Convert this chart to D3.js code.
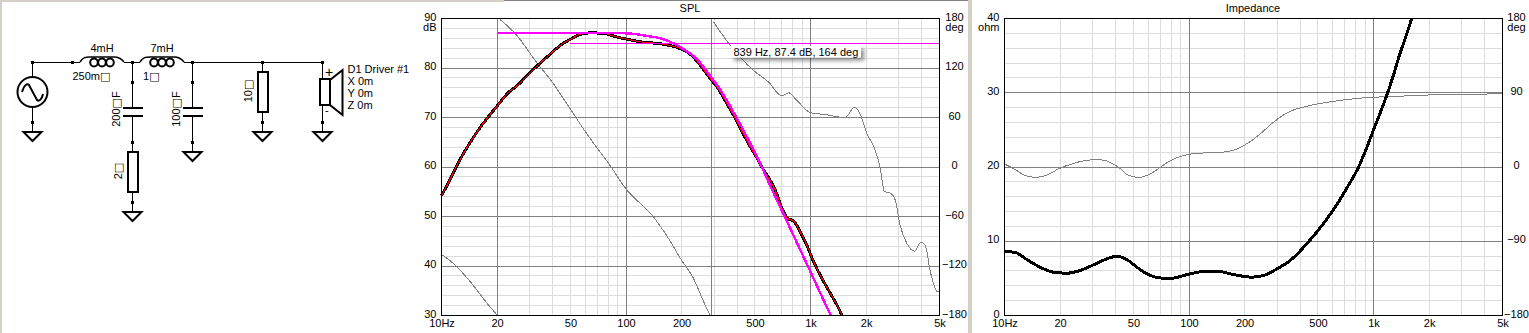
<!DOCTYPE html>
<html><head><meta charset="utf-8">
<style>
html,body{margin:0;padding:0;background:#fff;overflow:hidden}
svg{display:block}
text{font-family:"Liberation Sans",sans-serif;font-size:11px;fill:#000}
</style>
<script src="https://cdn.jsdelivr.net/npm/d3@7"></script>
</head><body><svg id="c" width="1529" height="333"></svg>
<script>
// ---- data ----
const xTicks=[10,20,50,100,200,500,1000,2000,5000];
const xTickLabels=["10Hz","20","50","100","200","500","1k","2k","5k"];
const minorFreqs=[10,20,30,40,50,60,70,80,90,100,200,300,400,500,600,700,800,900,1000,2000,3000,4000,5000];
const majorFreqs=[100,1000];
const splCursorFreqs=[20.15,292];
const splTicks=[30,40,50,60,70,80,90];
const splMinor=[32,34,36,38,42,44,46,48,52,54,56,58,62,64,66,68,72,74,76,78,82,84,86,88];
const degTicks180=[-180,-120,-60,0,60,120,180];
const impTicks=[0,10,20,30,40];
const impMinor=[2,4,6,8,12,14,16,18,22,24,26,28,32,34,36,38];
const degTicks90=[-180,-90,0,90,180];

const splF=[10,11,12,13,14.5,16,18,20,23,26,29,32.7,37,41,45.7,50,56.3,63.8,75.3,85,92.7,105,119,135,153,170,188,213,232,252,286,311,345,382,425,471,515,556,600,643,700,750,809,879,955,1038,1153,1279,1449,1480];
const splDb=[54.2,57.1,60,62.4,65.3,67.7,70.2,72.3,75,76.6,78.4,80.3,82.1,83.6,85,85.8,86.8,87.1,87,86.5,86.1,85.7,85.3,85.1,84.9,84.6,84.2,83.3,82.2,80.6,77.9,76.2,73.4,70.5,67.2,64.1,61.7,59.4,57.5,55.4,51.7,49.6,49.1,46.9,44.2,40.9,37.5,34.5,30.8,30];
const targetF=[20,40,60,89,110,129,153,181,213,242,286,323,390,471,545,592,685,776,861,955,1038,1153,1288];
const targetDb=[87.07,87.07,87.07,87.05,86.9,86.5,86,85,83.4,81.8,78.4,75.7,70.5,64.8,60,57,51.9,47.6,44,40.4,37.5,33.8,30];
const splPhaseAF=[10,11.6,12.6,14.8,17.5,20.1];
const splPhaseAD=[-106,-117,-125,-143,-164,-180];
const splPhaseBF=[20.7,25.5,32.7,40.4,47.7,61.2,81.9,99.1,141,166,200,232,262,283,286];
const splPhaseBD=[179,160,127,101,77,40.5,2,-25.5,-60.6,-83,-113,-135,-162,-178,-180];
const splPhaseCF=[298,324,367,424,491,592,700,760,826,995,1202,1542,1733,1845,2023,2244,2389,2512,2729,2879,3062,3334,3664,3972,4188,4460,4887,5000];
const splPhaseCD=[176,164,147.5,131,117,103,86,90,83,66,63.5,60,72.7,65.5,40.5,20,-2,-29.5,-32,-40,-71,-93,-102,-91,-95,-127,-151.5,-151.5];
const cursorLevelDb=85;
const cursorLevelFrom=49.7;

const impF=[10,11.4,13.2,15.6,18.4,21.8,25.7,30.4,35.9,40.6,46,52.2,61.6,71.3,80.8,99.4,120,142,174,219,261,296,357,447,540,635,730,830,915,1000,1095,1193,1287,1380,1495,1610];
const impOhm=[8.62,8.5,7.54,6.5,5.83,5.7,6.06,6.83,7.63,7.99,7.54,6.5,5.39,5.03,5.03,5.56,5.93,5.97,5.52,5.16,5.48,6.2,7.5,10,12.5,15,17.5,20,22.5,25,27.5,30,32.5,35,37.5,40];
const impPhaseF=[10,11.7,12.7,14.7,17,19.6,23.7,29.1,33.7,38.9,43.3,46,53.2,61.6,69.8,79,97.5,120,148,182,212,243,284,320,350,448,600,871,1324,2009,3311,5000];
const impPhaseD=[3.6,-4.5,-9.7,-12.6,-9.7,-2.4,4.4,8.5,8.5,3.6,-3.6,-9.3,-12.6,-8.5,-0.5,7.6,14.9,17,17.7,21.8,30,40,53.5,62,67,74.3,79.5,83.7,85.6,87.3,88,88.9];
const tooltipText="839 Hz, 87.4 dB, 164 deg";

// ---- drawing ----
const svg=d3.select("#c");
const defs=svg.append("defs");
const fl=defs.append("filter").attr("id","sh").attr("x","-10%").attr("y","-30%").attr("width","125%").attr("height","190%");
fl.append("feDropShadow").attr("dx",3).attr("dy",3).attr("stdDeviation",2).attr("flood-color","#000").attr("flood-opacity",0.45);

const chrome="#d4d0c8";
svg.append("rect").attr("width",1529).attr("height",333).attr("fill","#fff");
[[0,0,2,333],[0,0,504,2],[968,0,4,333]].forEach(r=>svg.append("rect").attr("x",r[0]).attr("y",r[1]).attr("width",r[2]).attr("height",r[3]).attr("fill",chrome));
svg.append("rect").attr("x",504).attr("y",0).attr("width",464).attr("height",1).attr("fill","#808080");

const LIGHT="#dcdcdc",DARK="#808080";
function plot(o){
  const g=svg.append("g");
  const x=d3.scaleLog().domain([10,5000]).range([o.l,o.r]);
  const y=d3.scaleLinear().domain(o.yDom).range([o.b,o.t]);
  const d=d3.scaleLinear().domain([-180,180]).range([o.b,o.t]);
  const grid=g.append("g").attr("shape-rendering","crispEdges");
  const vl=(f,c)=>grid.append("line").attr("x1",x(f)).attr("x2",x(f)).attr("y1",o.t).attr("y2",o.b).attr("stroke",c);
  const hl=(v,c)=>grid.append("line").attr("x1",o.l).attr("x2",o.r).attr("y1",y(v)).attr("y2",y(v)).attr("stroke",c);
  minorFreqs.forEach(f=>vl(f,LIGHT));
  o.yMinor.forEach(v=>hl(v,LIGHT));
  o.yMajor.forEach(v=>hl(v,DARK));
  majorFreqs.concat(o.cursors||[]).forEach(f=>vl(f,DARK));
  const ax=d3.axisBottom(x).tickValues(xTicks).tickFormat((_,i)=>xTickLabels[i]).tickSize(0).tickPadding(0);
  const xa=g.append("g").attr("transform",`translate(0,${o.b+4})`).call(ax);
  const ay=d3.axisLeft(y).tickValues(o.yTicks).tickSize(0).tickPadding(0);
  const ya=g.append("g").attr("transform",`translate(${o.l-5},0)`).call(ay);
  const ar=d3.axisRight(d).tickValues(o.dTicks).tickSize(0).tickPadding(0);
  const ra=g.append("g").attr("transform",`translate(${o.r+o.rOff},0)`).call(ar);
  ra.selectAll("text").attr("text-anchor","middle");
  [xa,ya,ra].forEach(a=>{a.select(".domain").remove();a.selectAll("text").style("font-family",'"Liberation Sans",sans-serif').style("font-size","11px").attr("fill","#000");});
  ya.selectAll("text").attr("dy","0.32em").attr("y",-2);
  ra.selectAll("text").attr("dy","0.32em").attr("y",-2);
  g.append("text").attr("x",o.l-5).attr("y",o.t+12).attr("text-anchor","end").text(o.yUnit);
  g.append("text").attr("x",o.r+o.rOff).attr("y",o.t+12).attr("text-anchor","middle").text("deg");
  g.append("text").attr("x",o.titleX).attr("y",12).attr("text-anchor","middle").text(o.title);
  const curves=g.append("g");
  const draw=(fs,vs,sc,col,w)=>{
    const line=d3.line().x(i=>x(fs[i])).y(i=>sc(vs[i])).curve(d3.curveMonotoneX);
    curves.append("path").attr("d",line(d3.range(fs.length))).attr("fill","none").attr("stroke",col).attr("stroke-width",w).attr("shape-rendering","crispEdges");
  };
  o.draw(draw,y,d,x,curves);
  g.append("rect").attr("x",o.l).attr("y",o.t).attr("width",o.r-o.l).attr("height",o.b-o.t).attr("fill","none").attr("stroke","#000").attr("shape-rendering","crispEdges");
  return {x,y,d};
}
plot({l:441.5,r:939.5,t:18.5,b:315.5,yDom:[30,90],yTicks:splTicks,yMinor:splMinor,yMajor:splTicks,dTicks:degTicks180,rOff:15,yUnit:"dB",title:"SPL",titleX:690,cursors:splCursorFreqs,
 draw(draw,y,d,x,c){
  draw(splPhaseAF,splPhaseAD,d,"#808080",1);
  draw(splPhaseBF,splPhaseBD,d,"#808080",1);
  draw(splPhaseCF,splPhaseCD,d,"#808080",1);
  draw(splF,splDb,y,"#000",3);
  draw(splF,splDb,y,"#ff0000",1);
  draw(targetF,targetDb,y,"#ff00ff",2.4);
  c.append("line").attr("x1",x(cursorLevelFrom)).attr("x2",939).attr("y1",Math.round(y(cursorLevelDb))+.5).attr("y2",Math.round(y(cursorLevelDb))+.5).attr("stroke","#ff00ff").attr("shape-rendering","crispEdges");
 }});
plot({l:1004.5,r:1502.5,t:18.5,b:315.5,yDom:[0,40],yTicks:impTicks,yMinor:impMinor,yMajor:impTicks,dTicks:degTicks90,rOff:14,yUnit:"ohm",title:"Impedance",titleX:1253,
 draw(draw,y,d){
  draw(impPhaseF,impPhaseD,d,"#808080",1);
  draw(impF,impOhm,y,"#000",3);
 }});

// tooltip
svg.append("rect").attr("x",731).attr("y",46).attr("width",130).attr("height",11.5).attr("fill","#fff").attr("filter","url(#sh)");
svg.append("text").attr("x",733.5).attr("y",56).text(tooltipText);

// ---- schematic ----
const s=svg.append("g").attr("fill","none").attr("stroke","#000").attr("shape-rendering","crispEdges");
const wire=(x1,y1,x2,y2,w=1)=>s.append("line").attr("x1",x1).attr("y1",y1).attr("x2",x2).attr("y2",y2).attr("stroke-width",w);
const dot=(x,y)=>svg.append("rect").attr("x",x-1).attr("y",y-1).attr("width",3).attr("height",3).attr("fill","#000");
const gnd=(x,y)=>s.append("path").attr("d",`M${x-9},${y}H${x+9}L${x},${y+9}Z`).attr("stroke-width",2).attr("shape-rendering","auto");
const res=(x,y1,y2)=>s.append("rect").attr("x",x-5).attr("y",y1).attr("width",10).attr("height",y2-y1).attr("stroke-width",2);
const cap=(x,y1,y2)=>{wire(x-10,y1,x+10,y1,2);wire(x-10,y2,x+10,y2,2);};
const coil=(x)=>{
  s.append("path").attr("shape-rendering","auto").attr("stroke-width",1.5)
   .attr("d",`M${x},62 C${x+3},57 ${x+6},57 ${x+10},57 H${x+34} C${x+38},57 ${x+41},58 ${x+44},62`);
  [14,22,30].forEach(dx=>s.append("ellipse").attr("shape-rendering","auto").attr("cx",x+dx).attr("cy",62.5).attr("rx",3.8).attr("ry",4).attr("stroke-width",2));
};
wire(32.5,62,80,62);coil(80);wire(124,62,140,62);coil(140);wire(184,62,322.5,62);
wire(32.5,62,32.5,77);wire(32.5,107,32.5,132);
s.append("circle").attr("shape-rendering","auto").attr("stroke-width",2).attr("cx",32.5).attr("cy",92).attr("r",15);
s.append("path").attr("shape-rendering","auto").attr("stroke-width",2).attr("d","M22,92C24,85 27,83 29,85L37,100C39,102 42,99 43,94");
gnd(32.5,132);
wire(132.5,62,132.5,108);wire(132.5,116,132.5,152);wire(132.5,192,132.5,212);cap(132.5,108,116);res(132.5,152,192);gnd(132.5,212);
wire(192.5,62,192.5,108);wire(192.5,116,192.5,152);cap(192.5,108,116);gnd(192.5,152);
wire(262.5,62,262.5,72);wire(262.5,112,262.5,132);res(262.5,72,112);gnd(262.5,132);
wire(322.5,62,322.5,79);wire(322.5,105,322.5,132);gnd(322.5,132);
s.append("rect").attr("x",320).attr("y",79).attr("width",10).attr("height",26).attr("stroke-width",2);
s.append("path").attr("shape-rendering","auto").attr("stroke-width",2).attr("d","M330,80L342.5,70V115L330,105");
[[32,62],[72,62],[132,62],[192,62],[262,62],[322,62],[32,122],[132,82],[132,142],[132,202],[192,82],[192,142],[262,122],[322,122]].forEach(p=>dot(p[0],p[1]));
const sq=t=>t.replace("□",`<tspan style="font-family:'DejaVu Sans'">□</tspan>`);
const lab=(t,x,y,a="start")=>svg.append("text").attr("x",x).attr("y",y).attr("text-anchor",a).html(sq(t));
const rot=(t,x,y)=>svg.append("text").attr("transform",`translate(${x},${y}) rotate(-90)`).attr("text-anchor","middle").html(sq(t));
lab("4mH",102,52,"middle");lab("7mH",162,52,"middle");lab("250m□",72.5,80);lab("1□",143,80);
rot("200□F",120,109);rot("100□F",180,109);rot("2□",122,171);rot("10□",252,91);
lab("+",325,77).style("font-size","14px");lab("-",325,114);
lab("D1 Driver #1",347.5,73);lab("X 0m",347.5,85);lab("Y 0m",347.5,97);lab("Z 0m",347.5,109);
</script></body></html>
